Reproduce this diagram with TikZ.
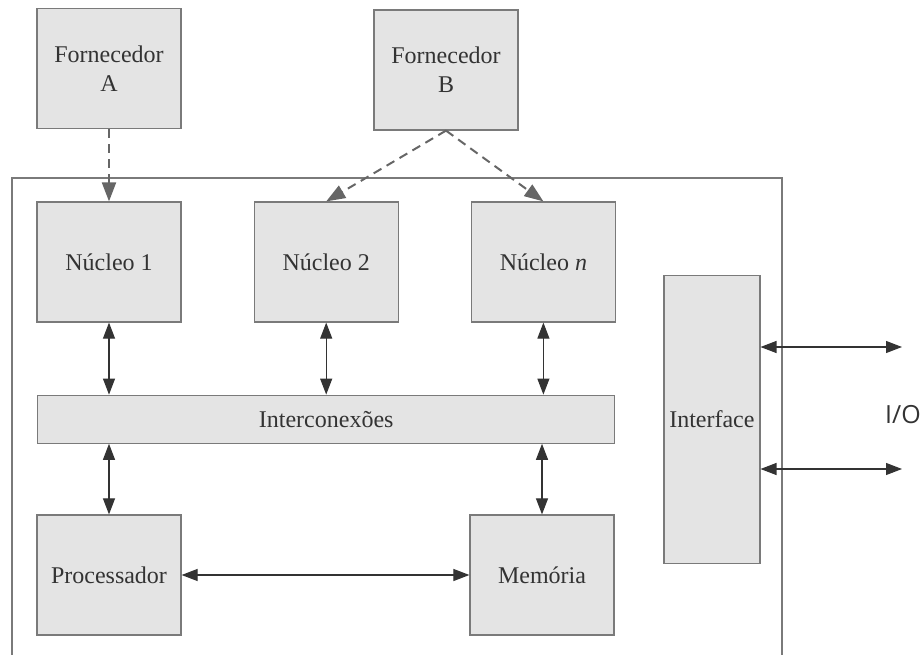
\documentclass[tikz,border=0pt]{standalone}
\usepackage{fontspec}
\setmainfont{Liberation Serif}
\newfontfamily\iofont{Open Sans}
\usetikzlibrary{arrows.meta,positioning}

\definecolor{caixa}{HTML}{E4E4E4}
\definecolor{borda}{HTML}{7A7A7A}
\definecolor{texto}{HTML}{333333}
\definecolor{linha}{HTML}{555555}

\begin{document}
\begin{tikzpicture}[x=1pt, y=-1pt,
  blk/.style={rectangle, draw=borda, fill=caixa, line width=1.2pt, minimum width=144pt, minimum height=120pt, inner sep=0pt, font=\fontsize{24}{29}\selectfont, text=texto, align=center},
  duplo/.style={{Triangle[length=16pt,width=12pt]}-{Triangle[length=16pt,width=12pt]}, line width=1.1pt, draw=linha, color=texto},
  trac/.style={-{Triangle[length=19pt,width=14pt]}, line width=2pt, dash pattern=on 9pt off 6pt, draw=linha, color=linha!90},
  node distance=72pt and 72pt
]
\useasboundingbox (0,0) rectangle (920,655);

% outer box (open at the bottom)
\draw[borda, line width=1.2pt] (12,655) -- (12,178) -- (782,178) -- (782,655);

\node[blk] (n1) at (109,262) {Núcleo 1};
\node[blk, right=of n1] (n2) {Núcleo 2};
\node[blk, right=of n2] (nn) {Núcleo \textit{n}};
\node[blk, above=of n1] (fa) {Fornecedor\\A};
\node[blk] (fb) at (446,70) {Fornecedor\\B};

\node[blk, below=of n2, minimum width=577pt, minimum height=48pt] (inter) {Interconexões};
\node[blk, minimum width=96pt, minimum height=288pt, right=48pt of inter] (iface) {Interface};

\node[blk] (proc) at (109,575) {Processador};
\node[blk] (mem) at (542,575) {Memória};

\coordinate (io1) at (902,347);
\coordinate (io2) at (902,469);
\node[font=\iofont\fontsize{25}{30}\selectfont, text=texto] (io) at (903,415) {I/O};

\draw[trac] (fa) -- (n1);
\draw[trac] (fb.south) -- (n2.north);
\draw[trac] (fb.south) -- (nn.north);

\draw[duplo] (n1) -- (n1 |- inter.north);
\draw[duplo] (n2) -- (inter);
\draw[duplo] (nn) -- (nn |- inter.north);
\draw[duplo] (proc |- inter.south) -- (proc);
\draw[duplo] (mem |- inter.south) -- (mem);
\draw[duplo] (proc) -- (mem);

\draw[duplo] (iface.east |- io1) -- (io1);
\draw[duplo] (iface.east |- io2) -- (io2);
\end{tikzpicture}
\end{document}
